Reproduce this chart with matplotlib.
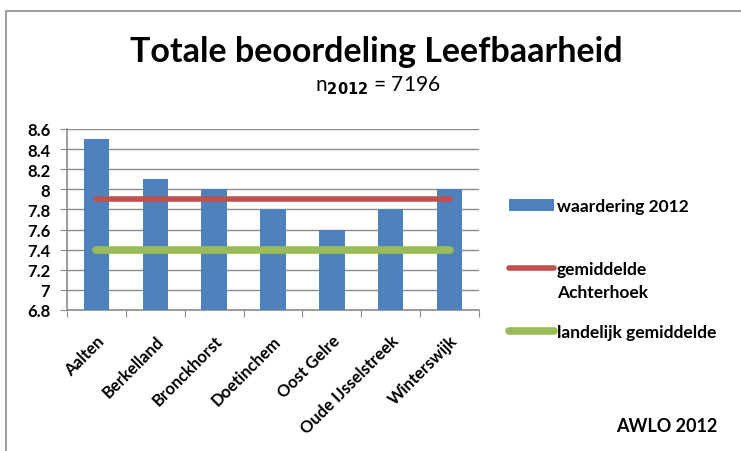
import matplotlib.pyplot as plt
from matplotlib.patches import Rectangle

plt.rcParams['font.family'] = ['Lato', 'DejaVu Sans']

# data
gemeenten   = ["Aalten", "Berkelland", "Bronckhorst", "Doetinchem",
               "Oost Gelre", "Oude IJsselstreek", "Winterswijk"]
waardering  = [8.5, 8.1, 8.0, 7.8, 7.6, 7.8, 8.0]
achterhoek  = [7.9] * len(gemeenten)
landelijk   = [7.4] * len(gemeenten)
y_ticks     = [6.8, 7.0, 7.2, 7.4, 7.6, 7.8, 8.0, 8.2, 8.4, 8.6]
y_labels    = ["6.8", "7", "7.2", "7.4", "7.6", "7.8", "8", "8.2", "8.4", "8.6"]

W, H = 741, 452
fig = plt.figure(figsize=(W / 100., H / 100.), dpi=100)

# chart border (only left and top visible)
fig.patches.append(Rectangle((6. / W, -0.1), 1.2, 1.1 - 12. / H,
                             transform=fig.transFigure, fill=False,
                             edgecolor='#8c8c8c', linewidth=1.2))

ax = fig.add_axes([67. / W, 1 - 311. / H, 412. / W, (311. - 130.) / H])

x = range(len(gemeenten))
bars = ax.bar(x, waardering, width=0.43, color='#4f81bd', zorder=3)
red, = ax.plot(x, achterhoek, color='#c0504d', linewidth=4,
               solid_capstyle='round', zorder=4)
green, = ax.plot(x, landelijk, color='#9bbb59', linewidth=5.5,
                 solid_capstyle='round', zorder=4)

ax.set_xlim(-0.5, len(gemeenten) - 0.5)
ax.set_ylim(6.8, 8.6)
ax.set_yticks(y_ticks)
ax.set_yticklabels(y_labels, fontsize=12, fontweight='bold')
ax.yaxis.grid(True, color='#8c8c8c', linewidth=1.0, zorder=0)

ax.set_xticks([i - 0.5 for i in range(len(gemeenten) + 1)])
ax.set_xticklabels([])
ax.set_xticks(list(x), minor=True)
ax.set_xticklabels(gemeenten, minor=True, rotation=45, ha='right',
                   rotation_mode='anchor', fontsize=12, fontweight='bold')
ax.tick_params(axis='x', which='minor', length=0, pad=16)
ax.tick_params(axis='x', which='major', length=5, color='#8c8c8c', direction='out')
ax.tick_params(axis='y', length=5, color='#8c8c8c', direction='out', pad=7)

for s in ['top', 'right']:
    ax.spines[s].set_visible(False)
for s in ['left', 'bottom']:
    ax.spines[s].set_color('#8c8c8c')
    ax.spines[s].set_linewidth(1.2)

# legend, one entry at a time so the spacing follows the original
leg_font = {'weight': 'bold', 'size': 12.5}
for handle, label, ypix in [(bars, 'waardering 2012', 207),
                            (red, 'gemiddelde', 270),
                            (green, 'landelijk gemiddelde', 333)]:
    fig.legend([handle], [label], loc='center left',
               bbox_to_anchor=(509. / W, 1 - ypix / H),
               frameon=False, handlelength=2.6, handletextpad=0.15,
               borderpad=0, borderaxespad=0, prop=leg_font)
fig.text(557. / W, 1 - 293. / H, "Achterhoek", ha='left', va='center',
         fontsize=12.5, fontweight='bold')

fig.text(376. / W, 1 - 52. / H, "Totale beoordeling Leefbaarheid",
         ha='center', va='center', fontsize=24.5, fontweight='bold')
fig.text(378. / W, 1 - 86. / H, r"n$_{\mathbf{2012}}$ = 7196",
         ha='center', va='center', fontsize=15)
fig.text(667. / W, 1 - 427. / H, "AWLO 2012",
         ha='center', va='center', fontsize=13, fontweight='bold')

fig.savefig("out.png", dpi=100)
